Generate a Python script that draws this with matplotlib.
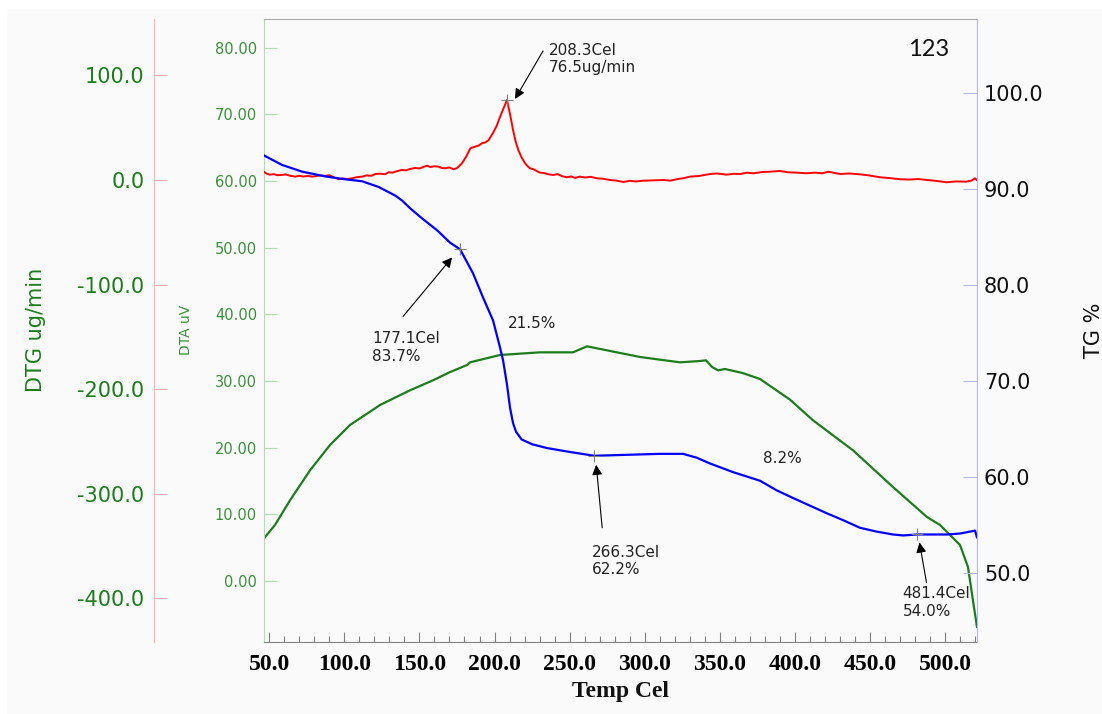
import numpy as np
import matplotlib
matplotlib.use("Agg")
import matplotlib.pyplot as plt
from matplotlib.patches import Rectangle
from matplotlib.transforms import offset_copy
from matplotlib.ticker import FormatStrFormatter, MultipleLocator

# DTG (red), ug/min
dtg_temp = [46.4, 48.5, 50.5, 53.0, 55.5, 58.6, 61.0, 63.5, 67.4, 70.0, 73.0, 76.0, 78.5,
            81.0, 84.0, 87.4, 90.0, 93.0, 96.3, 99.0, 102.0, 105.2, 108.0, 111.9, 115.0,
            118.0, 120.7, 124.0, 127.0, 129.6, 132.0, 135.0, 138.4, 141.0, 144.0, 147.3,
            150.0, 153.0, 155.1, 157.0, 160.0, 162.8, 165.0, 167.2, 170.0, 172.8, 175.0,
            178.3, 181.0, 183.9, 187.2, 189.5, 191.6, 194.0, 196.1, 199.0, 201.5, 203.6,
            206.0, 208.3, 210.3, 212.3, 214.0, 215.8, 218.0, 220.3, 222.0, 223.6, 226.0,
            228.0, 230.2, 233.0, 236.0, 239.1, 242.0, 245.0, 248.0, 251.0, 253.5, 256.8,
            260.0, 264.0, 268.0, 272.0, 276.8, 281.0, 285.7, 290.0, 294.0, 299.0, 305.0,
            312.3, 317.0, 321.2, 326.0, 330.0, 336.0, 343.3, 348.0, 354.4, 359.0, 363.3,
            368.0, 372.2, 378.0, 383.0, 389.9, 395.0, 401.0, 407.7, 413.0, 418.0, 422.1,
            426.0, 429.8, 436.0, 443.1, 449.0, 456.4, 463.0, 469.8, 476.0, 482.0, 487.5,
            494.0, 500.8, 507.0, 514.1, 517.5, 519.7, 520.8]
dtg_val = [7.9, 6.0, 5.0, 5.6, 4.6, 4.8, 5.4, 4.2, 3.2, 4.0, 3.3, 3.9, 3.2,
           3.6, 4.4, 3.8, 4.6, 2.6, 0.7, 1.5, 0.9, 1.6, 2.6, 3.2, 4.4,
           4.0, 5.7, 6.0, 5.5, 7.4, 7.0, 8.4, 9.6, 9.2, 10.6, 11.5,
           11.0, 12.6, 13.7, 12.4, 13.1, 12.7, 11.4, 11.2, 12.0, 10.2, 11.4,
           15.9, 22.0, 30.3, 31.9, 33.0, 35.1, 36.0, 38.2, 45.0, 52.0, 60.2,
           68.5, 76.5, 63.0, 47.8, 37.0, 28.7, 21.5, 16.0, 13.2, 11.2, 10.2,
           8.6, 7.0, 6.6, 5.4, 4.8, 5.6, 3.6, 2.6, 3.4, 2.0, 3.2,
           2.4, 3.0, 1.6, 1.2, 0.0, -0.6, -1.9, -0.8, -1.4, -0.7, -0.4,
           0.0, -0.6, 0.7, 1.8, 3.2, 3.8, 5.7, 6.2, 5.1, 5.9, 5.7,
           7.0, 6.4, 7.6, 7.9, 8.6, 7.4, 7.0, 6.4, 7.0, 6.4, 7.9,
           6.8, 5.7, 6.2, 5.4, 4.4, 2.6, 1.8, 0.7, 0.4, 0.9, 0.0,
           -0.9, -2.2, -1.4, -1.6, -0.5, 1.6, 0.0]

# TG (blue), %
tg_temp = [46.4, 58.6, 71.9, 87.4, 100.7, 111.8, 122.9, 134.0, 138.4, 143.7, 152.0, 161.7,
           170.4, 177.1, 185.7, 192.3, 199.0, 203.6, 205.6, 208.3, 210.3, 212.3, 214.3,
           218.0, 225.0, 235.0, 250.0, 266.3, 288.1, 310.0, 325.4, 334.5, 343.3, 358.6,
           376.6, 387.7, 398.6, 409.9, 421.2, 431.8, 443.1, 454.2, 465.1, 471.8, 481.4,
           501.0, 509.7, 519.7, 521.0]
tg_val = [93.5, 92.5, 91.8, 91.3, 91.0, 90.8, 90.2, 89.3, 88.8, 88.0, 86.9, 85.7,
          84.4, 83.7, 81.2, 78.7, 76.3, 73.5, 72.2, 69.6, 67.2, 65.6, 64.7,
          63.9, 63.4, 63.0, 62.6, 62.2, 62.3, 62.4, 62.4, 62.0, 61.4, 60.5,
          59.6, 58.6, 57.8, 57.0, 56.2, 55.5, 54.7, 54.3, 54.0, 53.9, 54.0,
          54.0, 54.1, 54.4, 53.7]

# DTA (green), uV
dta_temp = [46.6, 53.9, 63.9, 77.2, 90.5, 103.8, 123.8, 143.7, 159.0, 170.0, 181.7, 183.7,
            203.6, 230.2, 252.2, 261.5, 274.8, 296.8, 323.4, 336.7, 340.7, 344.7, 348.7,
            353.3, 365.0, 376.6, 396.6, 411.9, 438.5, 465.1, 487.7, 496.4, 509.7, 515.0,
            518.3, 521.0]
dta_val = [6.4, 8.4, 12.1, 16.6, 20.4, 23.4, 26.4, 28.6, 30.1, 31.3, 32.4, 32.8,
           33.9, 34.3, 34.3, 35.2, 34.6, 33.6, 32.8, 33.0, 33.1, 32.1, 31.6,
           31.8, 31.2, 30.3, 27.2, 24.1, 19.6, 14.1, 9.6, 8.4, 5.4, 2.1,
           -2.9, -6.9]

x_ticks = [50, 100, 150, 200, 250, 300, 350, 400, 450, 500]
dta_ticks = [0, 10, 20, 30, 40, 50, 60, 70, 80]
dtg_ticks = [-400, -300, -200, -100, 0, 100]
tg_ticks = [50, 60, 70, 80, 90, 100]

W, H = 1102, 714
fig = plt.figure(figsize=(W / 100, H / 100), dpi=100, facecolor="white")
fig.patches.append(Rectangle((7 / W, 0), 1, (H - 9) / H, transform=fig.transFigure,
                             facecolor="#fafafa", edgecolor="none", zorder=-10))

L, R, T, B = 264, 977, 19, 642
ax = fig.add_axes([L / W, 1 - B / H, (R - L) / W, (B - T) / H])
ax.set_facecolor("none")
ax_dtg = ax.twinx()
ax_tg = ax.twinx()
for a in (ax_dtg, ax_tg):
    a.set_facecolor("none")

green = "#1c7d1c"
# DTA axis
ax.plot(dta_temp, dta_val, color=green, lw=1.6)
ax.set_xlim(46.6, 521)
ax.set_ylim(-9.15, 84.3)
ax.set_yticks(dta_ticks)
ax.yaxis.set_major_formatter(FormatStrFormatter("%.2f"))
ax.tick_params(axis="y", direction="in", length=9, width=0.8, color="#b4dcb4",
               labelcolor="#3a8f3a", labelsize=10.5, pad=5)
ax.spines["left"].set_color("#b4dcb4")
ax.spines["right"].set_visible(False)
ax.spines["top"].set_color("#a8a8a8")
ax.spines["bottom"].set_color("#808080")

ax.set_xticks(x_ticks)
ax.xaxis.set_minor_locator(MultipleLocator(10))
ax.xaxis.set_major_formatter(FormatStrFormatter("%.1f"))
ax.tick_params(axis="x", which="major", direction="in", length=7, width=0.8, color="#808080",
               pad=9)
ax.tick_params(axis="x", which="minor", direction="in", length=4, width=0.8, color="#808080")
for lab in ax.get_xticklabels():
    lab.set_fontfamily("Liberation Serif")
    lab.set_fontweight("bold")
    lab.set_fontsize(17)

# DTG axis (far left)
ax_dtg.plot(dtg_temp, dtg_val, color="#ff0000", lw=1.4)
ax_dtg.set_ylim(-441.7, 153.9)
ax_dtg.yaxis.tick_left()
ax_dtg.spines["left"].set_position(("axes", (154 - L) / (R - L)))
ax_dtg.spines["left"].set_visible(True)
ax_dtg.spines["left"].set_color("#ffb4b4")
for s in ("right", "top", "bottom"):
    ax_dtg.spines[s].set_visible(False)
ax_dtg.set_yticks(dtg_ticks)
ax_dtg.yaxis.set_major_formatter(FormatStrFormatter("%.1f"))
ax_dtg.tick_params(axis="y", direction="in", length=9, width=0.8, color="#ffb4b4",
                   labelcolor=green, labelsize=15, pad=7)

# TG axis (right)
ax_tg.plot(tg_temp, tg_val, color="#0000ff", lw=1.6)
ax_tg.set_ylim(42.8, 107.7)
ax_tg.set_yticks(tg_ticks)
ax_tg.yaxis.set_major_formatter(FormatStrFormatter("%.1f"))
ax_tg.spines["right"].set_color("#b4b4ff")
for s in ("left", "top", "bottom"):
    ax_tg.spines[s].set_visible(False)
ax_tg.tick_params(axis="y", direction="in", length=10, width=0.8, color="#b4b4ff",
                  labelcolor="#111111", labelsize=15, pad=5)


def mark(axis, t, v, label, tip, tail, txt):
    axis.plot([t], [v], marker="+", color="#808080", ms=8, mew=0.8, zorder=6)
    tr_tip = offset_copy(axis.transData, fig=fig, x=tip[0], y=tip[1], units="dots")
    tr_tail = offset_copy(axis.transData, fig=fig, x=tail[0], y=tail[1], units="dots")
    axis.annotate("", xy=(t, v), xycoords=tr_tip, xytext=(t, v), textcoords=tr_tail,
                  arrowprops=dict(arrowstyle="-|>", color="black", lw=0.8,
                                  mutation_scale=15, shrinkA=0, shrinkB=0))
    axis.annotate(label, xy=(t, v), xytext=txt, textcoords="offset pixels",
                  ha="left", va="top", fontsize=11, color="#222222")


mark(ax_dtg, 208.3, 76.5, "208.3Cel\n76.5ug/min", (8, 1), (36, 49), (42, 57))
mark(ax_tg, 177.1, 83.7, "177.1Cel\n83.7%", (-8, -8), (-57, -67), (-88, -82))
mark(ax_tg, 266.3, 62.2, "266.3Cel\n62.2%", (2, -9), (8, -72), (-2, -89))
mark(ax_tg, 481.4, 54.0, "481.4Cel\n54.0%", (2, -8), (9, -48), (-15, -52))

ax.text((508 - L) / (R - L), 1 - (316 - T) / (B - T), "21.5%", transform=ax.transAxes,
        ha="left", va="top", fontsize=11, color="#222222")
ax.text((763 - L) / (R - L), 1 - (451 - T) / (B - T), "8.2%", transform=ax.transAxes,
        ha="left", va="top", fontsize=11, color="#222222")
ax.text((929 - L) / (R - L), 1 - (49 - T) / (B - T), "123", transform=ax.transAxes,
        ha="center", va="center", fontsize=17, family="Lato", color="#111111")

# axis titles
fig.text(36 / W, 1 - 330 / H, "DTG ug/min", rotation=90, ha="center", va="center",
         fontsize=15, color=green)
fig.text(186 / W, 1 - 330 / H, "DTA uV", rotation=90, ha="center", va="center",
         fontsize=10, color="#3a8f3a")
fig.text(1094 / W, 1 - 330 / H, "TG %", rotation=90, ha="center", va="center",
         fontsize=15, color="#111111")
fig.text(620 / W, 1 - 691 / H, "Temp Cel", ha="center", va="center",
         fontsize=17, family="Liberation Serif", fontweight="bold", color="#111111")

fig.savefig("out.png", dpi=100, facecolor=fig.get_facecolor())
